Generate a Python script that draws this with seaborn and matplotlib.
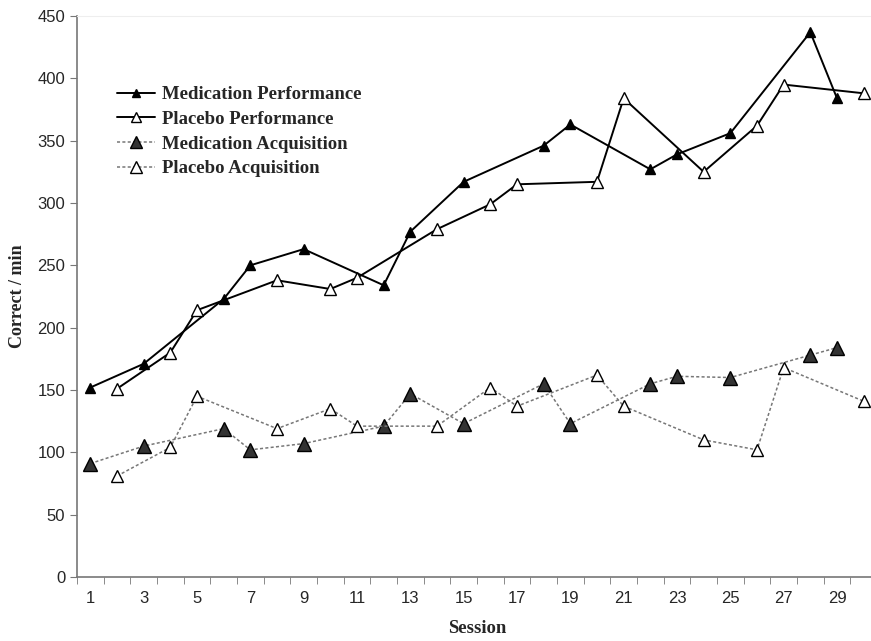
import numpy as np
import pandas as pd
import seaborn as sns
import matplotlib.pyplot as plt
from matplotlib.lines import Line2D

# sessions for each group (medication and placebo alternate)
med_sessions = [1, 3, 6, 7, 9, 12, 13, 15, 18, 19, 22, 23, 25, 28, 29]
plac_sessions = [2, 4, 5, 8, 10, 11, 14, 16, 17, 20, 21, 24, 26, 27, 30]

med_perf = [152, 171, 223, 250, 263, 234, 277, 317, 346, 363, 327, 339, 356, 437, 384]
plac_perf = [151, 180, 214, 238, 231, 240, 279, 299, 315, 317, 384, 325, 362, 395, 388]
med_acq = [91, 105, 119, 102, 107, 121, 147, 123, 155, 123, 155, 161, 160, 178, 184]
plac_acq = [81, 104, 145, 119, 135, 121, 121, 152, 137, 162, 137, 110, 102, 168, 141]

xticks = list(range(1, 30, 2))
yticks = list(range(0, 451, 50))

sns.set_style("ticks")
plt.rcParams['font.family'] = ['Liberation Sans', 'DejaVu Sans']

fig = plt.figure(figsize=(8.71, 6.41), dpi=100)
ax = fig.add_axes([77 / 871, 64 / 641, 800 / 871, 561 / 641])

series = [
    ("Medication Performance", med_sessions, med_perf, "-", "black", "black", 7, 1.4),
    ("Placebo Performance", plac_sessions, plac_perf, "-", "black", "white", 8, 1.4),
    ("Medication Acquisition", med_sessions, med_acq, (0, (2, 1.5)), "#777777", "#333333", 10, 1.1),
    ("Placebo Acquisition", plac_sessions, plac_acq, (0, (2, 1.5)), "#777777", "white", 9, 1.1),
]

handles = []
for name, xs, ys, ls, lc, fc, ms, lw in series:
    df = pd.DataFrame({"Session": xs, "Value": ys})
    sns.lineplot(data=df, x="Session", y="Value", ax=ax, color=lc, linestyle=ls,
                 linewidth=lw, marker="^", markersize=ms, markerfacecolor=fc,
                 markeredgecolor="black", markeredgewidth=1.0)
    handles.append(Line2D([0], [0], color=lc if "Acq" in name else "black", linestyle=ls, linewidth=lw,
                          marker="^", markersize=ms - 1, markerfacecolor=fc,
                          markeredgecolor="black", label=name))

ax.set_xlim(0.5, 30.5)
ax.set_ylim(0, 450)
ax.set_yticks(yticks)
ax.set_xticks(xticks)
ax.set_xticks(np.arange(0.5, 31, 1), minor=True)
ax.tick_params(axis="x", which="major", length=0, labelsize=12, pad=10)
ax.tick_params(axis="x", which="minor", length=5, color="#777777")
ax.tick_params(axis="y", length=5, color="#777777", labelsize=12)

for s in ["left", "bottom"]:
    ax.spines[s].set_color("#777777")
    ax.spines[s].set_linewidth(1.2)
ax.spines["right"].set_visible(False)
ax.spines["top"].set_color("#eeeeee")

ax.set_xlabel("Session", family="Liberation Serif", fontweight="bold", fontsize=13.5, labelpad=10)
ax.set_ylabel("Correct / min", family="Liberation Serif", fontweight="bold", fontsize=13, labelpad=8)

leg = ax.legend(handles=handles, loc="upper left", bbox_to_anchor=(0.029, 0.905),
                frameon=False, handlelength=2.0, handletextpad=0.4, labelspacing=0.4,
                prop={"family": "Liberation Serif", "weight": "bold", "size": 13.5})

fig.savefig("out.png", dpi=100)
